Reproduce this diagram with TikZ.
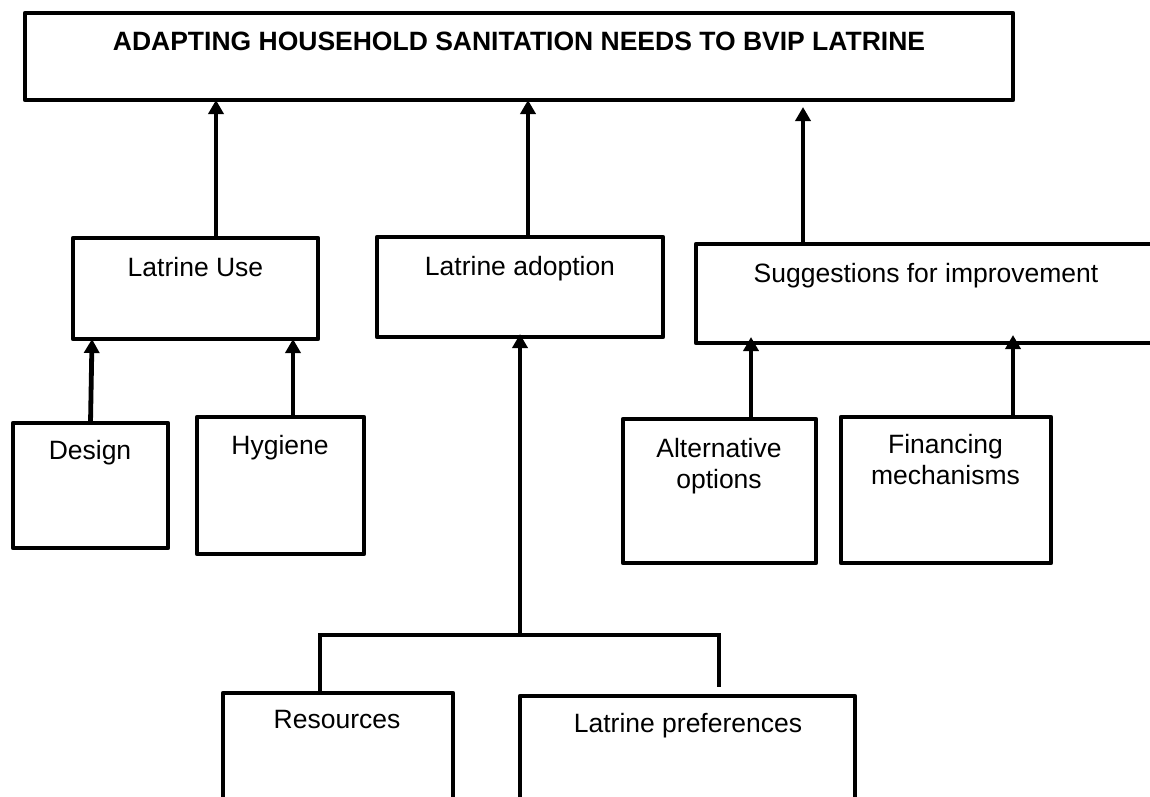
\documentclass[tikz,border=0pt]{standalone}
\usepackage{fontspec}
\setmainfont{Liberation Sans}
\usetikzlibrary{arrows.meta,calc}
\begin{document}
\begin{tikzpicture}[x=1pt,y=-1pt,
  box/.style={draw=black, line width=4.8pt, line join=round, rectangle,
    inner sep=0pt, outer sep=0pt},
  lbl/.style={inner sep=0pt, font=\fontsize{26.5}{31.5}\selectfont, anchor=base},
  lbltwo/.style={inner sep=0pt, font=\fontsize{26.5}{31.5}\selectfont, align=center, anchor=north},
  ttl/.style={inner sep=0pt, font=\fontsize{26.5}{31.5}\selectfont\bfseries, anchor=base},
  link/.style={line width=4.8pt, -{Triangle[length=14pt,width=15pt]}},
  bar/.style={line width=4.8pt, line join=miter},
]
\useasboundingbox (0,0) rectangle (1150,796);
\fill[white] (0,0) rectangle (1150,796);
\clip (0,0) rectangle (1150,796);

% top goal box
\node[box, minimum width=988pt, minimum height=87pt] (top) at (519,56.5) {};
\node[ttl] (topT) at (519,50) {ADAPTING HOUSEHOLD SANITATION NEEDS TO BVIP LATRINE};

% second level
\node[box, minimum width=245pt, minimum height=101pt] (use) at (195.5,288.5) {};
\node[lbl] (useT) at (195.5,276) {Latrine Use};
\node[box, minimum width=286pt, minimum height=100pt] (adopt) at (520,287) {};
\node[lbl] (adoptT) at (520,275) {Latrine adoption};
\node[box, minimum width=460pt, minimum height=99pt] (sug) at (926,293.5) {};
\node[lbl] (sugT) at (926,282) {Suggestions for improvement};

% third level
\node[box, minimum width=155pt, minimum height=125pt] (des) at (90.5,485.5) {};
\node[lbl] (desT) at (90,459) {Design};
\node[box, minimum width=167pt, minimum height=137pt] (hyg) at (280.5,485.5) {};
\node[lbl] (hygT) at (280,454) {Hygiene};
\node[box, minimum width=193pt, minimum height=144pt] (alt) at (719.5,491) {};
\node[lbltwo] (altT) at (719,438) {Alternative\\options};
\node[box, minimum width=210pt, minimum height=146pt] (fin) at (946,490) {};
\node[lbltwo] (finT) at (945.5,434) {Financing\\mechanisms};

% bottom level
\node[box, minimum width=230pt, minimum height=137pt] (res) at (338,761.5) {};
\node[lbl] (resT) at (337,728) {Resources};
\node[box, minimum width=335pt, minimum height=134pt] (pref) at (687.5,763) {};
\node[lbl] (prefT) at (688,732) {Latrine preferences};

% connectors to the goal box
\draw[link] ($(use.north west)+(143,0)$) -- ($(top.south west)+(191,0)$);
\draw[link] ($(adopt.north west)+(151,0)$) -- ($(top.south west)+(503,0)$);
\draw[link] ($(sug.north west)+(107,0)$) -- ($(top.south west)+(778,7)$);

% connectors to the second level
\draw[link] (des.north) -- ($(use.south west)+(19,0)$);
\draw[link] ($(hyg.north)+(12.5,0)$) -- ($(use.south west)+(220,0)$);
\draw[link] ($(alt.north)+(31.5,0)$) -- ($(sug.south west)+(55,-6)$);
\draw[link] ($(fin.north)+(67,0)$) -- ($(sug.south west)+(317,-8)$);

% bracket joining the bottom boxes
\coordinate (join) at (520,635);
\coordinate (prefEnd) at (719,687);
\draw[bar] ($(res.north west)+(97,0)$) |- (join) -| (prefEnd);
\draw[link] (join) -- ($(adopt.south)+(0,-3)$);
\end{tikzpicture}
\end{document}
